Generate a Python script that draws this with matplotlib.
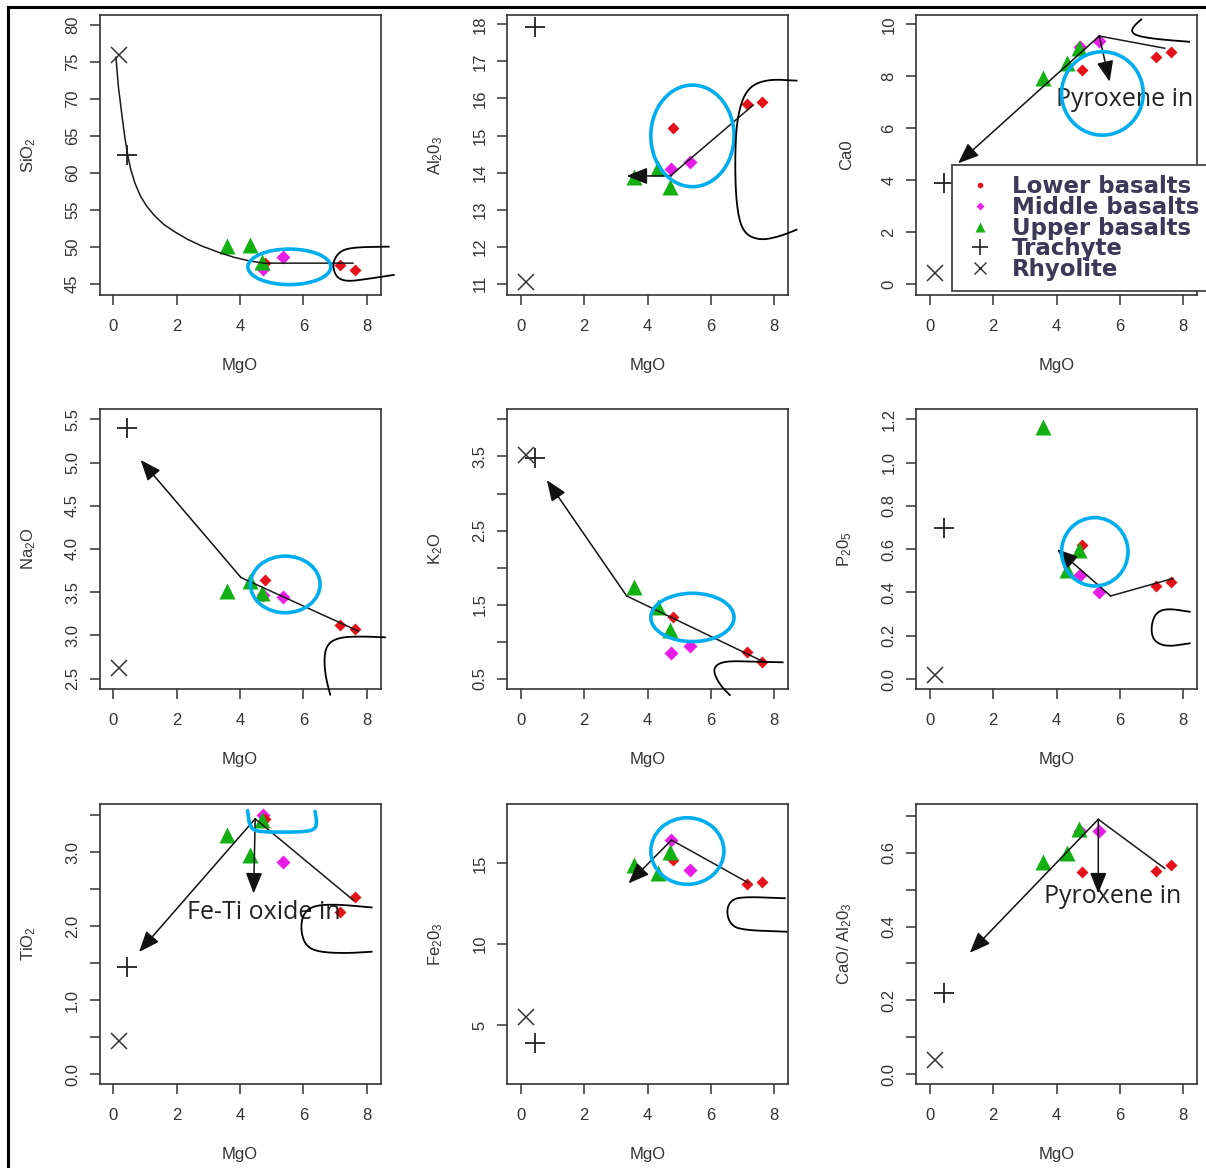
import matplotlib
matplotlib.use('Agg')
import matplotlib.pyplot as plt
import numpy as np
from matplotlib.lines import Line2D
from matplotlib.patches import Ellipse

plt.rcParams['font.family'] = ['Liberation Sans', 'DejaVu Sans']
plt.rcParams['mathtext.fontset'] = 'custom'
plt.rcParams['mathtext.rm'] = 'Liberation Sans'
plt.rcParams['mathtext.default'] = 'regular'

# ---------------- data (MgO wt% on x for every panel) ----------------
mgo_lower = [4.80, 7.15, 7.62]
mgo_middle = [4.74, 5.35]
mgo_upper = [3.58, 4.33, 4.70]
mgo_trachyte = [0.43]
mgo_rhyolite = [0.17]

sio2_lower = [47.8, 47.6, 46.9]
sio2_middle = [47.0, 48.6]
sio2_upper = [50.1, 50.3, 48.0]
sio2_trachyte = [62.4]
sio2_rhyolite = [75.9]

al2o3_lower = [15.21, 15.85, 15.91]
al2o3_middle = [14.10, 14.28]
al2o3_upper = [13.89, 14.12, 13.62]
al2o3_trachyte = [17.92]
al2o3_rhyolite = [11.04]

cao_lower = [8.24, 8.75, 8.95]
cao_middle = [9.12, 9.36]
cao_upper = [7.92, 8.50, 9.08]
cao_trachyte = [3.88]
cao_rhyolite = [0.41]

na2o_lower = [3.64, 3.12, 3.07]
na2o_middle = [3.47, 3.44]
na2o_upper = [3.51, 3.63, 3.49]
na2o_trachyte = [5.40]
na2o_rhyolite = [2.62]

k2o_lower = [1.34, 0.86, 0.73]
k2o_middle = [0.85, 0.94]
k2o_upper = [1.74, 1.47, 1.16]
k2o_trachyte = [3.48]
k2o_rhyolite = [3.52]

p2o5_lower = [0.62, 0.43, 0.45]
p2o5_middle = [0.48, 0.40]
p2o5_upper = [1.166, 0.504, 0.596]
p2o5_trachyte = [0.70]
p2o5_rhyolite = [0.018]

tio2_lower = [3.45, 2.19, 2.39]
tio2_middle = [3.50, 2.86]
tio2_upper = [3.23, 2.96, 3.44]
tio2_trachyte = [1.44]
tio2_rhyolite = [0.44]

fe2o3_lower = [15.21, 13.72, 13.87]
fe2o3_middle = [16.44, 14.59]
fe2o3_upper = [14.90, 14.38, 15.72]
fe2o3_trachyte = [3.87]
fe2o3_rhyolite = [5.52]

ratio_lower = [0.549, 0.552, 0.567]
ratio_middle = [0.660, 0.659]
ratio_upper = [0.576, 0.599, 0.664]
ratio_trachyte = [0.219]
ratio_rhyolite = [0.038]

y_titles = ['SiO$_2$', 'Al$_2$0$_3$', 'Ca0', 'Na$_2$O', 'K$_2$O', 'P$_2$0$_5$',
            'TiO$_2$', 'Fe$_2$0$_3$', 'CaO/ Al$_2$0$_3$']
x_title = 'MgO'
x_ticks = [0, 2, 4, 6, 8]
legend_labels = ['Lower basalts', 'Middle basalts', 'Upper basalts', 'Trachyte', 'Rhyolite']

y_ticks = [
    [45, 50, 55, 60, 65, 70, 75, 80],
    [11, 12, 13, 14, 15, 16, 17, 18],
    [0, 2, 4, 6, 8, 10],
    [2.5, 3.0, 3.5, 4.0, 4.5, 5.0, 5.5],
    [0.5, 1.0, 1.5, 2.0, 2.5, 3.0, 3.5, 4.0],
    [0.0, 0.2, 0.4, 0.6, 0.8, 1.0, 1.2],
    [0.0, 0.5, 1.0, 1.5, 2.0, 2.5, 3.0, 3.5],
    [5, 10, 15],
    [0.0, 0.1, 0.2, 0.3, 0.4, 0.5, 0.6, 0.7],
]
y_tick_labels = [
    ['45', '50', '55', '60', '65', '70', '75', '80'],
    ['11', '12', '13', '14', '15', '16', '17', '18'],
    ['0', '2', '4', '6', '8', '10'],
    ['2.5', '3.0', '3.5', '4.0', '4.5', '5.0', '5.5'],
    ['0.5', '', '1.5', '', '2.5', '', '3.5', ''],
    ['0.0', '0.2', '0.4', '0.6', '0.8', '1.0', '1.2'],
    ['0.0', '', '1.0', '', '2.0', '', '3.0', ''],
    ['5', '10', '15'],
    ['0.0', '', '0.2', '', '0.4', '', '0.6', ''],
]
y_limits = [(43.5, 81.3), (10.70, 18.25), (-0.42, 10.36), (2.38, 5.62), (0.365, 4.14),
            (-0.046, 1.248), (-0.135, 3.65), (1.35, 18.67), (-0.027, 0.7326)]

# trend lines (MgO, value) and arrows (start -> end)
sio2_trend_mgo = [0.08, 0.12, 0.16, 0.21, 0.28, 0.36, 0.45, 0.55, 0.68, 0.85, 1.05, 1.30,
                  1.60, 1.95, 2.35, 2.80, 3.30, 3.80, 4.30, 4.75, 7.57]
sio2_trend_val = [75.6, 73.5, 71.5, 69.8, 67.4, 64.8, 62.4, 60.4, 58.6, 56.9, 55.5, 54.2,
                  53.0, 52.0, 51.0, 50.1, 49.3, 48.6, 48.1, 47.8, 47.8]
al2o3_trend_mgo = [7.34, 4.76]
al2o3_trend_val = [15.82, 13.94]
al2o3_arrows = [((4.76, 13.91), (3.34, 13.91))]
cao_trend_mgo = [7.42, 5.35]
cao_trend_val = [9.08, 9.55]
cao_arrows = [((5.35, 9.55), (0.89, 4.65)), ((5.35, 9.55), (5.68, 7.79))]
na2o_trend_mgo = [7.74, 4.03]
na2o_trend_val = [3.05, 3.67]
na2o_arrows = [((4.03, 3.67), (0.86, 5.03))]
k2o_trend_mgo = [7.63, 3.34]
k2o_trend_val = [0.74, 1.62]
k2o_arrows = [((3.34, 1.62), (0.82, 3.18))]
p2o5_trend_mgo = [7.68, 5.71]
p2o5_trend_val = [0.465, 0.384]
p2o5_arrows = [((5.71, 0.384), (4.02, 0.60))]
tio2_trend_mgo = [7.58, 4.48]
tio2_trend_val = [2.35, 3.45]
tio2_arrows = [((4.48, 3.45), (4.43, 2.44)), ((4.48, 3.45), (0.81, 1.65))]
fe2o3_trend_mgo = [7.18, 4.76]
fe2o3_trend_val = [13.80, 16.44]
fe2o3_arrows = [((4.76, 16.44), (3.40, 13.76))]
ratio_trend_mgo = [7.42, 5.32]
ratio_trend_val = [0.558, 0.691]
ratio_arrows = [((5.32, 0.691), (5.32, 0.49)), ((5.32, 0.691), (1.26, 0.329))]

# text labels in panels: (panel index, text, MgO, value)
panel_notes = [(2, 'Pyroxene in', 6.16, 7.09), (6, 'Fe-Ti oxide in', 4.75, 2.19),
               (8, 'Pyroxene in', 5.77, 0.483)]

# hand-drawn annotations overlaid on the scan (panel, centre x, centre y, width, height)
blue_ellipses = [(0, 5.56, 47.3, 2.62, 4.8), (1, 5.42, 14.99, 2.63, 2.74),
                 (2, 5.45, 7.34, 2.58, 3.21), (3, 5.43, 3.59, 2.2, 0.655),
                 (4, 5.42, 1.33, 2.63, 0.651), (5, 5.21, 0.588, 2.1, 0.316),
                 (7, 5.26, 15.76, 2.31, 4.12)]
blue_bracket_x = [4.24, 4.27, 4.30, 4.43, 4.85, 5.90, 6.37, 6.43, 6.37]
blue_bracket_y = [3.56, 3.46, 3.38, 3.29, 3.27, 3.27, 3.30, 3.41, 3.55]
hand_curves = [
    (0, [8.70, 7.55, 7.13, 6.92, 7.02, 7.34, 7.97, 8.86],
        [50.03, 49.94, 49.36, 47.79, 45.99, 45.31, 45.63, 46.21]),
    (1, [8.71, 7.76, 7.13, 6.83, 6.76, 6.81, 7.02, 7.55, 8.18, 8.71],
        [16.48, 16.52, 16.27, 15.51, 14.34, 13.08, 12.37, 12.17, 12.28, 12.46]),
    (2, [6.68, 6.42, 6.37, 6.63, 7.26, 8.19],
        [10.19, 9.91, 9.68, 9.53, 9.42, 9.33]),
    (3, [6.85, 6.69, 6.66, 6.79, 7.16, 7.79, 8.58],
        [2.315, 2.546, 2.777, 2.912, 2.978, 2.989, 2.978]),
    (4, [6.60, 6.29, 6.08, 6.18, 6.55, 7.34, 8.27],
        [0.284, 0.419, 0.599, 0.698, 0.743, 0.734, 0.725]),
    (5, [8.21, 7.47, 7.11, 6.98, 7.07, 7.47, 8.21],
        [0.311, 0.327, 0.303, 0.234, 0.176, 0.149, 0.165]),
    (6, [8.16, 6.95, 6.27, 5.98, 5.92, 6.06, 6.43, 7.27, 8.16],
        [2.252, 2.297, 2.270, 2.149, 1.946, 1.743, 1.653, 1.631, 1.653]),
    (7, [8.34, 6.92, 6.60, 6.50, 6.60, 6.92, 8.39],
        [12.84, 12.94, 12.63, 12.01, 11.29, 10.88, 10.77]),
]

# ---------------- assemble ----------------
panel_values = [
    (sio2_lower, sio2_middle, sio2_upper, sio2_trachyte, sio2_rhyolite),
    (al2o3_lower, al2o3_middle, al2o3_upper, al2o3_trachyte, al2o3_rhyolite),
    (cao_lower, cao_middle, cao_upper, cao_trachyte, cao_rhyolite),
    (na2o_lower, na2o_middle, na2o_upper, na2o_trachyte, na2o_rhyolite),
    (k2o_lower, k2o_middle, k2o_upper, k2o_trachyte, k2o_rhyolite),
    (p2o5_lower, p2o5_middle, p2o5_upper, p2o5_trachyte, p2o5_rhyolite),
    (tio2_lower, tio2_middle, tio2_upper, tio2_trachyte, tio2_rhyolite),
    (fe2o3_lower, fe2o3_middle, fe2o3_upper, fe2o3_trachyte, fe2o3_rhyolite),
    (ratio_lower, ratio_middle, ratio_upper, ratio_trachyte, ratio_rhyolite),
]
panel_trends = [
    (sio2_trend_mgo, sio2_trend_val, []),
    (al2o3_trend_mgo, al2o3_trend_val, al2o3_arrows),
    (cao_trend_mgo, cao_trend_val, cao_arrows),
    (na2o_trend_mgo, na2o_trend_val, na2o_arrows),
    (k2o_trend_mgo, k2o_trend_val, k2o_arrows),
    (p2o5_trend_mgo, p2o5_trend_val, p2o5_arrows),
    (tio2_trend_mgo, tio2_trend_val, tio2_arrows),
    (fe2o3_trend_mgo, fe2o3_trend_val, fe2o3_arrows),
    (ratio_trend_mgo, ratio_trend_val, ratio_arrows),
]

RED = '#e3121b'
MAG = '#e81ee8'
GRN = '#12b012'
INK = '#333333'
BLUE = '#00aeef'

W, H = 1206, 1168
fig = plt.figure(figsize=(W / 100, H / 100), dpi=100)
fig.patch.set_facecolor('white')

col_left = [99.5, 507, 916]
row_top = [15, 409, 804]
aw, ah = 281, 280


def smooth(xs, ys, it=3):
    pts = np.column_stack([xs, ys]).astype(float)
    for _ in range(it):
        q = 0.75 * pts[:-1] + 0.25 * pts[1:]
        r = 0.25 * pts[:-1] + 0.75 * pts[1:]
        new = np.empty((2 * len(q), 2))
        new[0::2] = q
        new[1::2] = r
        pts = np.vstack([pts[:1], new, pts[-1:]])
    return pts[:, 0], pts[:, 1]


axes = []
for i in range(9):
    r, c = divmod(i, 3)
    L = col_left[c]
    T = row_top[r]
    ax = fig.add_axes([L / W, (H - T - ah) / H, aw / W, ah / H])
    axes.append(ax)
    ax.set_xlim(-0.44, 8.44)
    ax.set_ylim(*y_limits[i])
    ax.set_xticks(x_ticks)
    ax.set_xticklabels([str(t) for t in x_ticks])
    ax.set_yticks(y_ticks[i])
    ax.set_yticklabels(y_tick_labels[i])
    ax.tick_params(axis='both', direction='out', length=7, width=1.1, color=INK,
                   labelsize=12, labelcolor=INK)
    ax.tick_params(axis='x', pad=10)
    ax.tick_params(axis='y', pad=7)
    for lab in ax.get_yticklabels():
        lab.set_rotation(90)
        lab.set_verticalalignment('center')
    for s in ax.spines.values():
        s.set_linewidth(1.2)
        s.set_color(INK)
    ax.set_xlabel(x_title, fontsize=12, color=INK)
    ax.set_ylabel(y_titles[i], fontsize=12, color=INK)
    ax.xaxis.set_label_coords(0.5, -0.225)
    ax.yaxis.set_label_coords(-0.22, 0.5)

    low, mid, upp, tra, rhy = panel_values[i]
    ax.plot(mgo_middle, mid, 'D', color=MAG, ms=7.5, mec='none', zorder=3)
    ax.plot(mgo_lower, low, 'D', color=RED, ms=6.5, mec='none', zorder=3)
    ax.plot(mgo_upper, upp, '^', color=GRN, ms=12, mec='none', zorder=3)
    ax.plot(mgo_trachyte, tra, '+', color='#222222', ms=15, mew=1.3, zorder=3)
    ax.plot(mgo_rhyolite, rhy, 'x', color='#333333', ms=12, mew=1.1, zorder=3)

    tx, tv, arrows = panel_trends[i]
    ax.plot(tx, tv, '-', color='#1a1a1a', lw=1.1, zorder=4)
    for (x0, y0), (x1, y1) in arrows:
        ax.annotate('', xy=(x1, y1), xytext=(x0, y0),
                    arrowprops=dict(arrowstyle='-|>,head_length=0.85,head_width=0.34',
                                    color='#111111', lw=1.1, shrinkA=0, shrinkB=0,
                                    mutation_scale=15), zorder=5)

for p, txt, x, y in panel_notes:
    axes[p].text(x, y, txt, ha='center', va='center', fontsize=18,
                 family=['Open Sans', 'DejaVu Sans'], color='#222222', zorder=3.5)

# legend in CaO panel (extends past the right edge, as in the cropped original)
handles = [
    Line2D([], [], ls='none', marker='o', color=RED, ms=4, mec='none'),
    Line2D([], [], ls='none', marker='D', color=MAG, ms=4.5, mec='none'),
    Line2D([], [], ls='none', marker='^', color=GRN, ms=6.5, mec='none'),
    Line2D([], [], ls='none', marker='+', color='#222222', ms=11, mew=1.2),
    Line2D([], [], ls='none', marker='x', color='#333333', ms=8, mew=1.0),
]
leg = axes[2].legend(handles, legend_labels, loc='upper left',
                     bbox_to_anchor=((952 - 916) / aw, 1 - (165 - 15) / ah),
                     borderaxespad=0, frameon=True, fancybox=False, framealpha=1,
                     edgecolor='#444444', handlelength=1.55, handletextpad=0.6,
                     labelspacing=-0.1, borderpad=0.45,
                     prop={'family': 'DejaVu Sans', 'weight': 'bold', 'size': 16.5})
leg.get_frame().set_linewidth(1.3)
for t in leg.get_texts():
    t.set_color('#3b3957')
leg.set_zorder(6)

# hand-drawn overlays
for p, cx, cy, w, h in blue_ellipses:
    axes[p].add_patch(Ellipse((cx, cy), w, h, fill=False, ec=BLUE, lw=2.6,
                              clip_on=False, zorder=10))
bx, by = smooth(blue_bracket_x, blue_bracket_y)
axes[6].plot(bx, by, color=BLUE, lw=2.6, clip_on=False, zorder=10, solid_capstyle='round')
for p, xs, ys in hand_curves:
    sx, sy = smooth(xs, ys)
    axes[p].plot(sx, sy, color='black', lw=1.3, clip_on=False, zorder=10)

# outer frame of the scanned figure
fig.add_artist(Line2D([8 / W, 1.0], [1 - 7 / H, 1 - 7 / H], transform=fig.transFigure,
                      color='black', lw=2.2))
fig.add_artist(Line2D([8 / W, 8 / W], [0.0, 1 - 7 / H], transform=fig.transFigure,
                      color='black', lw=2.2))

fig.savefig('out.png', dpi=100)
